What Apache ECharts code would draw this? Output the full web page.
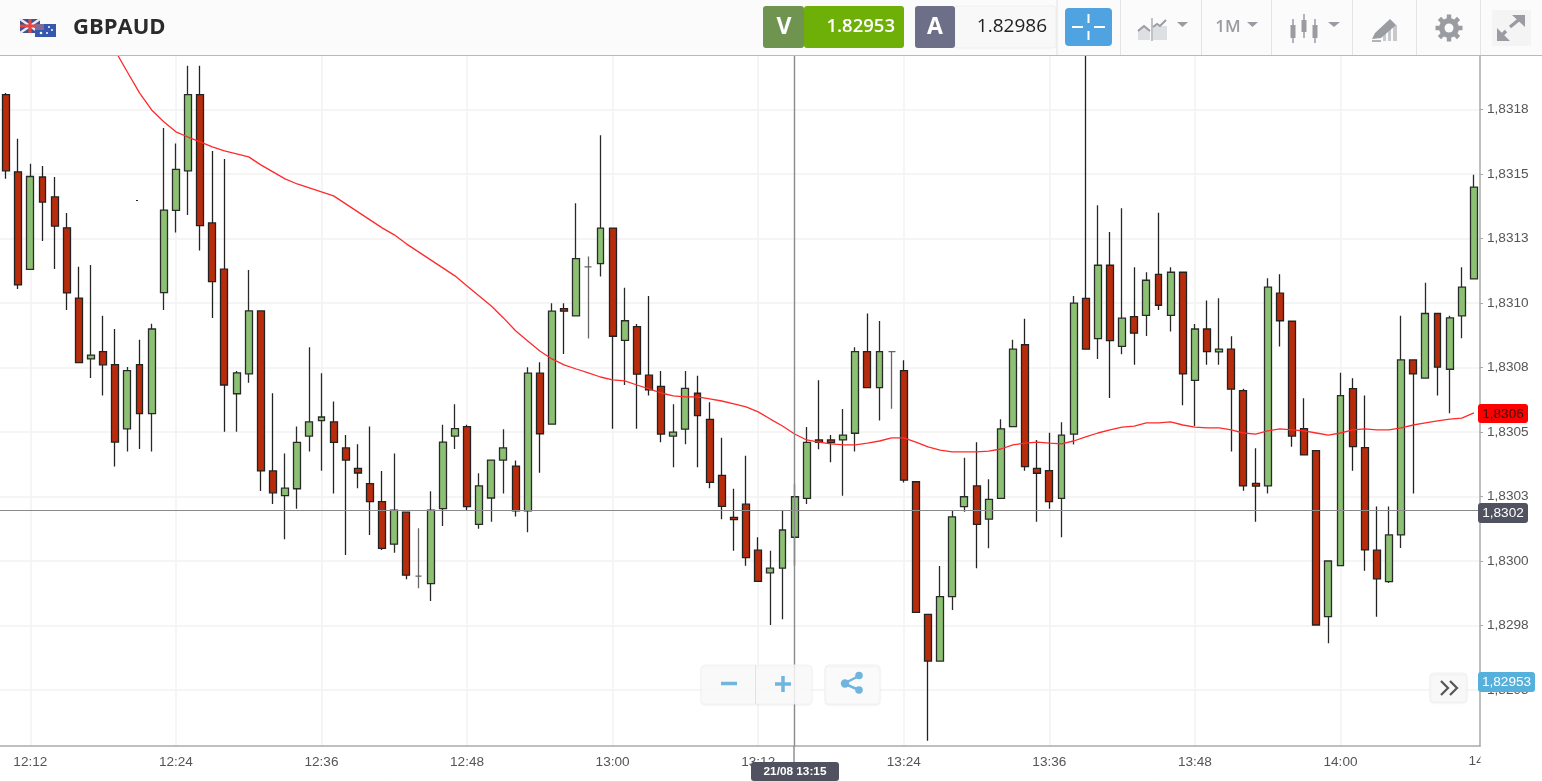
<!DOCTYPE html>
<html><head><meta charset="utf-8">
<style>html,body{margin:0;padding:0;background:#fff}#c{width:1542px;height:782px}</style>
<script src="https://cdn.jsdelivr.net/npm/echarts@6/dist/echarts.min.js"></script>
</head><body><div id="c"></div>
<script>
const symbol='GBPAUD';
const categories=['12:10','12:11','12:12','12:13','12:14','12:15','12:16','12:17','12:18','12:19','12:20','12:21','12:22','12:23','12:24','12:25','12:26','12:27','12:28','12:29','12:30','12:31','12:32','12:33','12:34','12:35','12:36','12:37','12:38','12:39','12:40','12:41','12:42','12:43','12:44','12:45','12:46','12:47','12:48','12:49','12:50','12:51','12:52','12:53','12:54','12:55','12:56','12:57','12:58','12:59','13:00','13:01','13:02','13:03','13:04','13:05','13:06','13:07','13:08','13:09','13:10','13:11','13:12','13:13','13:14','13:15','13:16','13:17','13:18','13:19','13:20','13:21','13:22','13:23','13:24','13:25','13:26','13:27','13:28','13:29','13:30','13:31','13:32','13:33','13:34','13:35','13:36','13:37','13:38','13:39','13:40','13:41','13:42','13:43','13:44','13:45','13:46','13:47','13:48','13:49','13:50','13:51','13:52','13:53','13:54','13:55','13:56','13:57','13:58','13:59','14:00','14:01','14:02','14:03','14:04','14:05','14:06','14:07','14:08','14:09','14:10','14:11'];
const opens=[1.831807,1.831508,1.831130,1.831488,1.831411,1.831291,1.831019,1.830783,1.830811,1.830761,1.830512,1.830761,1.830571,1.831040,1.831359,1.831512,1.831807,1.831310,1.831131,1.830648,1.830725,1.830969,1.830349,1.830253,1.830280,1.830484,1.830544,1.830539,1.830438,1.830359,1.830300,1.830230,1.830065,1.830189,1.829941,1.829912,1.830203,1.830484,1.830521,1.830142,1.830244,1.830391,1.830368,1.830194,1.830728,1.830530,1.830978,1.830950,1.831140,1.831152,1.831290,1.830855,1.830908,1.830720,1.830677,1.830484,1.830511,1.830650,1.830549,1.830332,1.830169,1.830220,1.830042,1.829954,1.829972,1.830092,1.830243,1.830469,1.830469,1.830469,1.830495,1.830811,1.830672,1.830811,1.830738,1.830307,1.829793,1.829612,1.829862,1.830211,1.830291,1.830162,1.830243,1.830521,1.830838,1.830359,1.830350,1.830243,1.830492,1.831018,1.830862,1.831146,1.830832,1.830947,1.830952,1.831111,1.830952,1.831119,1.830700,1.830899,1.830810,1.830821,1.830660,1.830301,1.830291,1.831038,1.830929,1.830513,1.830428,1.829784,1.829982,1.830668,1.830439,1.830042,1.829920,1.830101,1.830779,1.830709,1.830959,1.830743,1.830950,1.831093];
const closes=[1.831512,1.831070,1.831490,1.831391,1.831298,1.831039,1.830769,1.830798,1.830760,1.830461,1.830738,1.830571,1.830899,1.831360,1.831518,1.831807,1.831300,1.831083,1.830682,1.830729,1.830969,1.830349,1.830264,1.830282,1.830460,1.830539,1.830558,1.830460,1.830391,1.830341,1.830230,1.830049,1.830197,1.829945,1.829941,1.830197,1.830461,1.830513,1.830211,1.830291,1.830391,1.830438,1.830194,1.830728,1.830493,1.830968,1.830968,1.831172,1.831140,1.831290,1.830871,1.830931,1.830724,1.830663,1.830492,1.830499,1.830669,1.830563,1.830305,1.830212,1.830160,1.830013,1.829921,1.829972,1.830120,1.830249,1.830460,1.830460,1.830459,1.830488,1.830811,1.830672,1.830811,1.830811,1.830313,1.829801,1.829612,1.829862,1.830171,1.830249,1.830142,1.830239,1.830512,1.830821,1.830366,1.830340,1.830230,1.830488,1.830999,1.830821,1.831146,1.830854,1.830941,1.830883,1.831088,1.830991,1.831119,1.830725,1.830899,1.830811,1.830821,1.830666,1.830291,1.830290,1.831061,1.830931,1.830484,1.830411,1.829752,1.830000,1.830641,1.830443,1.830043,1.829931,1.830101,1.830779,1.830725,1.830959,1.830751,1.830942,1.831061,1.831449];
const lows=[1.831481,1.831054,1.831128,1.831240,1.831132,1.830973,1.830769,1.830709,1.830641,1.830366,1.830424,1.830434,1.830424,1.830973,1.831273,1.831341,1.831203,1.830942,1.830501,1.830501,1.830691,1.830271,1.830221,1.830084,1.830202,1.830424,1.830350,1.830262,1.830023,1.830282,1.830101,1.830043,1.830032,1.829929,1.829894,1.829845,1.830136,1.830434,1.830194,1.830125,1.830152,1.830262,1.830172,1.830111,1.830342,1.830530,1.830802,1.830950,1.830862,1.831102,1.830512,1.830682,1.830512,1.830641,1.830460,1.830363,1.830452,1.830363,1.830282,1.830162,1.830040,1.829982,1.829921,1.829752,1.829774,1.829982,1.830221,1.830433,1.830383,1.830253,1.830424,1.830672,1.830544,1.830590,1.830304,1.829801,1.829303,1.829612,1.829810,1.830191,1.829972,1.830049,1.830243,1.830521,1.830350,1.830152,1.830202,1.830092,1.830451,1.830821,1.830783,1.830632,1.830801,1.830760,1.830872,1.830973,1.830889,1.830604,1.830523,1.830760,1.830760,1.830424,1.830272,1.830152,1.830262,1.830831,1.830443,1.830411,1.829752,1.829681,1.829982,1.830350,1.829962,1.829784,1.829915,1.830050,1.830262,1.830709,1.830641,1.830573,1.830863,1.831093];
const highs=[1.831814,1.831636,1.831539,1.831531,1.831488,1.831349,1.831140,1.831147,1.830950,1.830899,1.830752,1.830857,1.830919,1.831678,1.831618,1.831919,1.831919,1.831589,1.831558,1.830736,1.831128,1.830969,1.830650,1.830417,1.830521,1.830828,1.830728,1.830618,1.830488,1.830452,1.830521,1.830349,1.830417,1.830192,1.830127,1.830270,1.830528,1.830607,1.830528,1.830340,1.830391,1.830511,1.830389,1.830751,1.830770,1.830999,1.830999,1.831386,1.831180,1.831650,1.831290,1.831059,1.830918,1.831027,1.830736,1.830607,1.830736,1.830718,1.830615,1.830478,1.830280,1.830408,1.830092,1.830040,1.830198,1.830299,1.830519,1.830700,1.830488,1.830589,1.830828,1.830959,1.830930,1.830811,1.830778,1.830307,1.829793,1.829981,1.830198,1.830400,1.830460,1.830317,1.830549,1.830857,1.830939,1.830469,1.830497,1.830538,1.831027,1.832019,1.831379,1.831275,1.831367,1.831138,1.831119,1.831350,1.831138,1.831119,1.830918,1.831009,1.831018,1.830871,1.830667,1.830437,1.831096,1.831111,1.830929,1.830631,1.830428,1.830000,1.830729,1.830708,1.830641,1.830211,1.830211,1.830950,1.830779,1.831078,1.830959,1.830950,1.831138,1.831497];
const movingAverage=[null,null,null,null,null,null,null,null,null,1.831977,1.831895,1.831814,1.831748,1.831702,1.831663,1.831643,1.831624,1.831605,1.831589,1.831578,1.831566,1.831535,1.831508,1.831481,1.831461,1.831446,1.831430,1.831415,1.831384,1.831353,1.831322,1.831291,1.831264,1.831229,1.831198,1.831167,1.831136,1.831105,1.831066,1.831027,1.830988,1.830942,1.830892,1.830853,1.830814,1.830783,1.830760,1.830744,1.830729,1.830713,1.830702,1.830698,1.830682,1.830667,1.830651,1.830640,1.830636,1.830636,1.830628,1.830620,1.830609,1.830597,1.830578,1.830550,1.830523,1.830492,1.830469,1.830461,1.830454,1.830450,1.830450,1.830457,1.830465,1.830477,1.830477,1.830461,1.830442,1.830430,1.830423,1.830423,1.830423,1.830426,1.830434,1.830450,1.830457,1.830461,1.830457,1.830454,1.830465,1.830481,1.830496,1.830508,1.830519,1.830523,1.830535,1.830535,1.830539,1.830527,1.830519,1.830516,1.830516,1.830508,1.830496,1.830492,1.830504,1.830512,1.830508,1.830504,1.830496,1.830488,1.830496,1.830508,1.830512,1.830508,1.830508,1.830516,1.830527,1.830535,1.830543,1.830550,1.830554,1.830574];
const yTickValues=[1.8295,1.82975,1.83,1.83025,1.8305,1.83075,1.831,1.83125,1.8315,1.83175];
const yTickLabels=['1,8295','1,8298','1,8300','1,8303','1,8305','1,8308','1,8310','1,8313','1,8315','1,8318'];
const bidPrice='1.82953', askPrice='1.82986', timeframe='1M';
const maLabel='1,8306', crossLabel='1,8302', bidLabel='1,82953', crossTime='21/08 13:15', crossCategory='13:15', crossPrice=1.830195;
const clippedLabel='14:12';
const yMin=1.829283, yMax=1.831957;

const candles=categories.map((c,i)=>[opens[i],closes[i],lows[i],highs[i]]);
const isLabelled=i=>(i-2)%12===0;
const sans='"Liberation Sans", Arial, sans-serif', open='"Open Sans", sans-serif';
const Z=50;
const rect=(x,y,w,h,fill,r,extra,z)=>({type:'rect',z:z||Z,silent:true,shape:{x,y,width:w,height:h,r:r||0},style:Object.assign({fill},extra||{})});
const line=(x1,y1,x2,y2,stroke,lw,z)=>({type:'line',z:z||Z,silent:true,shape:{x1,y1,x2,y2},style:{stroke,lineWidth:lw||1,lineCap:'butt'}});
const text=(s,x,y,fill,font,align)=>({type:'text',z:Z+1,silent:true,style:{text:s,x,y,fill,font,align:align||'center',verticalAlign:'middle'}});
const poly=(pts,fill,z)=>({type:'polygon',z:z||Z,silent:true,shape:{points:pts},style:{fill}});
const pl=(pts,stroke,lw)=>({type:'polyline',z:Z+1,silent:true,shape:{points:pts},style:{stroke,lineWidth:lw,fill:null}});
const circ=(cx,cy,r,fill,z)=>({type:'circle',z:z||Z+1,silent:true,shape:{cx,cy,r},style:{fill}});
const G='#9b9ca1', B='#6fb5de';
const candleIcon=(x,y1,y2,y3,y4)=>[line(x,y1,x,y4,G,1.5),rect(x-2.5,y2,5,y3-y2,G)];
const gear=[];
for(let a=0;a<8;a++){const t=a*Math.PI/4;gear.push(line(1449+8*Math.cos(t),28+8*Math.sin(t),1449+13.5*Math.cos(t),28+13.5*Math.sin(t),G,4.5));}
const softBox={stroke:'#f3f3f3',shadowColor:'rgba(0,0,0,0.06)',shadowBlur:2,shadowOffsetY:1};
const graphics=[
  rect(0,0,1542,55,'#fbfbfb'),line(0,55.5,1542,55.5,'#b9b9b9',1.2),
  // flags
  rect(20,19,20,14,'#3f4f92'),line(20,19,40,33,'#e9e9f2',2.5,Z+1),line(40,19,20,33,'#e9e9f2',2.5,Z+1),line(30,19,30,33,'#e4473f',3,Z+1),line(20,26,40,26,'#e4473f',3,Z+1),
  rect(35,24,21,13,'#3557ad',0,{},Z+2),rect(35,24,9,6,'#7d6b9a',0,{},Z+3),circ(49,27,1,'#fff',Z+3),circ(52,30,1,'#fff',Z+3),circ(47,33,1,'#fff',Z+3),circ(41,33,1.3,'#fff',Z+3),
  text(symbol,73,27.5,'#2b2b2b','bold 22px '+open,'left'),
  // bid / ask
  rect(804,6,100,42,'#6fb008',3),rect(763,6,41,42,'#6e9450',3,{},Z+1),
  {...text('V',784,27,'#fff','bold 23px '+open),z:Z+2},text(bidPrice,895,26.5,'#fff','600 18.5px '+open,'right'),
  rect(955,6,101,42,'#f8f8f8',3,{stroke:'#efefef'}),rect(915,6,40,42,'#6c6f87',3,{},Z+1),
  {...text('A',935,27,'#fff','bold 23px '+open),z:Z+2},text(askPrice,1047,26.5,'#222','19px '+open,'right'),
  rect(1065,8,47,38,'#4ea3e0',4),
  line(1072,27,1083,27,'#fff',2,Z+1),line(1094,27,1105,27,'#fff',2,Z+1),line(1088.5,14,1088.5,23,'#fff',2,Z+1),line(1088.5,31,1088.5,40,'#fff',2,Z+1),
  // toolbar separators
  line(1120.5,0,1120.5,55,'#e3e3e3'),line(1201.5,0,1201.5,55,'#e3e3e3'),line(1271.5,0,1271.5,55,'#e3e3e3'),line(1352.5,0,1352.5,55,'#e3e3e3'),line(1416.5,0,1416.5,55,'#e3e3e3'),line(1480.5,0,1480.5,55,'#e3e3e3'),line(1057,0,1057,55,'#e3e3e3'),
  // chart type icon
  poly([[1138,40],[1138,30],[1144,26],[1150,31],[1150,40]],'#dedfe2'),rect(1153,26,14,14,'#dedfe2'),
  pl([[1138,31],[1144,26],[1150,31]],G,2),pl([[1153,27],[1157,24],[1160,26],[1166,20]],G,2),line(1152,18,1152,41,G,1.2,Z+1),
  poly([[1177,22],[1188,22],[1182.5,27]],G),
  text(timeframe,1228,27.5,G,'600 17px '+open),poly([[1247,22],[1258,22],[1252.5,27]],G),
  ...candleIcon(1293,19,25,38,43),...candleIcon(1304,14,20,32,38),...candleIcon(1315,19,25,38,43),
  poly([[1328,22],[1340,22],[1334,27]],G),
  // drawing tool icon
  rect(1383,33,3,8,'#c8c9cc'),rect(1388,29,3,12,'#c8c9cc'),rect(1393,25,4,16,'#c8c9cc'),
  poly([[1372,39],[1375,33],[1390,19],[1396,25],[1381,38]],G,Z+1),line(1372,41,1381,41,G,1.5,Z+1),
  // gear
  ...gear,circ(1449,28,10,G),circ(1449,28,4.5,'#fbfbfb',Z+2),
  // expand
  rect(1492,10,39,36,'#f4f4f4'),
  line(1510,27,1521,18,G,3.4,Z+1),line(1500,37,1506,31,G,3.4,Z+1),
  poly([[1512,15],[1525,15],[1525,27]],G,Z+1),poly([[1497,28],[1497,41],[1510,41]],G,Z+1),
  // stray pixel mark
  rect(136,200,2,1,'#222'),
  // crosshair continuation
  line(794,746,794,762,'#8a8a8a',1.4),
  // zoom buttons
  rect(701,665,111,39,'#fafafa',4,{...softBox,opacity:0.85}),
  line(755.5,665,755.5,704,'#e2e2e2',1,Z+1),
  line(721,683.5,737,683.5,B,3.5,Z+1),line(775,684,791,684,B,3.5,Z+1),line(783,676,783,692,B,3.5,Z+1),
  rect(825,665,55,39,'#fafafa',4,softBox),
  line(844,683.5,859,676,B,2.5,Z+1),line(844,683.5,859,690,B,2.5,Z+1),circ(845,683.5,4.2,B),circ(859,675.5,3.8,B),circ(859,690,3.8,B),
  rect(1430,673,37,29,'#f8f8f8',4,softBox),
  pl([[1441,681],[1448,688],[1441,695]],'#555',2.2),pl([[1450,681],[1457,688],[1450,695]],'#555',2.2),
  // price tags
  rect(1478,404,50,19,'#ff0000',3),text(maLabel,1503,414,'#3a1010','13.6px '+sans),
  rect(1478,503,50,20,'#50525f',3),text(crossLabel,1503,513,'#fff','13.6px '+sans),
  rect(1478,672,57,20,'#55b0dc',3),text(bidLabel,1506.5,682.5,'#fff','13.6px '+sans),
  // clipped final time label
  text(clippedLabel,1485.6,761,'#555','13.6px '+sans),rect(1480.5,750,62,22,'#fff',0,{},Z+2),
  // time tag
  rect(751,762,88,19,'#50525f',3,{},Z+2),{...text(crossTime,795,771.5,'#fff','bold 11.8px '+sans),z:Z+3},
  line(0,781.5,1542,781.5,'#dddddd')
];
const chart=echarts.init(document.getElementById('c'));
chart.setOption({
  animation:false,backgroundColor:'#fff',
  grid:{left:0,right:62,top:56,bottom:36,containLabel:false},
  xAxis:{type:'category',data:categories,boundaryGap:true,
    axisLine:{lineStyle:{color:'#aaaaaa',width:1.5}},
    axisTick:{alignWithLabel:true,length:6,interval:i=>isLabelled(i),lineStyle:{color:'#aaaaaa'}},
    axisLabel:{interval:i=>isLabelled(i),color:'#555',fontFamily:'Liberation Sans',fontSize:13.6,margin:9,hideOverlap:false},
    splitLine:{show:true,alignWithLabel:true,interval:i=>isLabelled(i),lineStyle:{color:'#f2f2f2',width:1.5}}},
  yAxis:{type:'value',position:'right',min:yMin,max:yMax,scale:true,
    axisLine:{show:true,lineStyle:{color:'#aaaaaa',width:1.5}},
    axisTick:{show:true,length:3,customValues:yTickValues,lineStyle:{color:'#aaaaaa'}},
    axisLabel:{customValues:yTickValues,color:'#555',fontFamily:'Liberation Sans',fontSize:13.6,margin:7,
      formatter:v=>yTickLabels[yTickValues.findIndex(t=>Math.abs(t-v)<1e-7)]},
    splitLine:{show:true,lineStyle:{color:'#f2f2f2',width:1.5}}},
  series:[
    {type:'candlestick',data:candles,barWidth:7.4,clip:true,z:3,
      itemStyle:{color:'#8cc174',color0:'#b82c0b',borderColor:'#2a2a2a',borderColor0:'#222222',borderColorDoji:'#666',borderWidth:1.3},
      markLine:{silent:true,symbol:'none',animation:false,precision:6,label:{show:false},z:6,
        data:[{xAxis:crossCategory,lineStyle:{color:'#8a8a8a',width:1.4,type:'solid'}},{yAxis:crossPrice,lineStyle:{color:'#8a8a8a',width:1,type:'solid'}}]}},
    {type:'line',data:movingAverage,showSymbol:false,smooth:false,clip:true,z:5,lineStyle:{color:'#ff2a2a',width:1.3},connectNulls:false}
  ],
  graphic:{elements:graphics}
});
</script></body></html>
